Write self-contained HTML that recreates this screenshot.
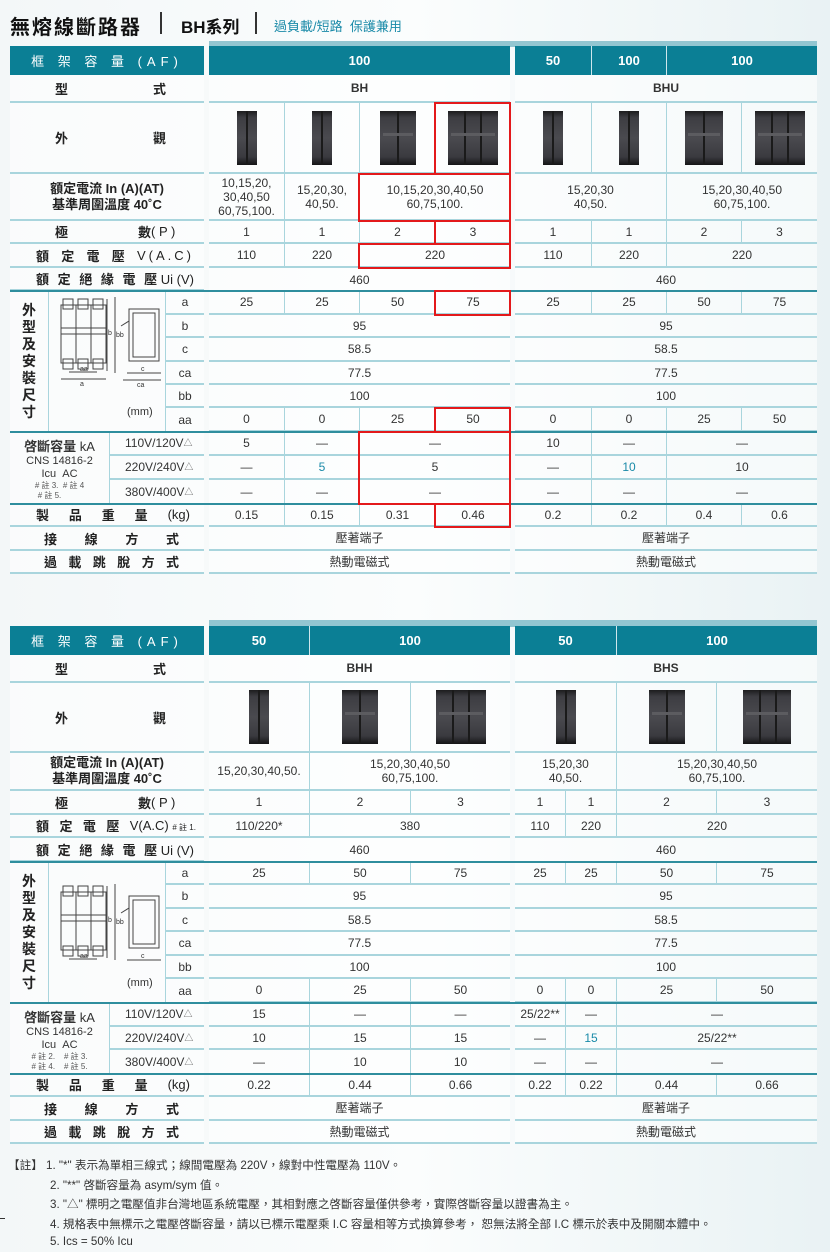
<!DOCTYPE html>
<html><head><meta charset="utf-8">
<style>
*{margin:0;padding:0;box-sizing:border-box}
body{width:830px;height:1252px;overflow:hidden;background:linear-gradient(90deg,#f3f7f8 0%,#fbfdfd 50%,#e9f2f4 100%);font-family:"Liberation Sans","Noto Sans CJK TC",sans-serif;color:#333;position:relative}
.c{position:absolute;display:flex;align-items:center;justify-content:center;text-align:center;font-size:12px;line-height:14px;border-bottom:2px solid #a9d5dd;background:rgba(255,255,255,.55)}
.v{border-left:1px solid #a9d5dd}
.h{position:absolute;background:#0b7f95;color:#fff;font-weight:bold;font-size:13px;display:flex;align-items:center;justify-content:center;height:29px}
.hv{border-left:1px solid #cfe7ec}
.lb{position:absolute;display:flex;align-items:center;justify-content:space-between;font-size:13px;font-weight:bold;color:#222;border-bottom:2px solid #a9d5dd;background:rgba(255,255,255,.55);white-space:nowrap}
.tk{position:absolute;left:10px;width:807px;height:2px;background:#2f8e9e}
.r{position:absolute;border:2px solid #e3191b}
.bk{display:block;height:54px;background:linear-gradient(180deg,#1c1c1e 0,#3d3d42 12%,#4a4a4f 50%,#3a3a3f 85%,#151517 100%);position:relative}
.bk i{position:absolute;top:0;bottom:0;width:2px;background:#1a1a1a}
.bk b{position:absolute;left:3px;right:3px;top:22px;height:3px;background:#5c5c60}
.tl{color:#1a8aa8}
.s{font-size:9px;vertical-align:top;color:#666}
.n{position:absolute;left:50px;font-size:11.6px;color:#333;white-space:nowrap}
</style></head><body>

<div style="position:absolute;left:10px;top:11px;font-size:20px;font-weight:bold;letter-spacing:2px;color:#111">無熔線斷路器</div>
<div style="position:absolute;left:160px;top:12px;width:2px;height:22px;background:#333"></div>
<div style="position:absolute;left:181px;top:13px;font-size:17px;font-weight:bold;color:#111">BH系列</div>
<div style="position:absolute;left:255px;top:12px;width:2px;height:22px;background:#333"></div>
<div style="position:absolute;left:274px;top:16px;font-size:13px;color:#1a8aa8">過負載/短路&nbsp;&nbsp;保護兼用</div>

<!-- ===== TABLE 1 ===== -->
<div style="position:absolute;left:209px;top:41px;width:608px;height:6px;background:#93c6d1"></div>
<div class="h" style="left:10px;top:46px;width:194px;font-weight:normal;letter-spacing:5px;font-size:13px">框&nbsp;架&nbsp;容&nbsp;量&nbsp;(AF)</div>
<div class="h" style="left:209px;top:46px;width:301px">100</div>
<div class="h" style="left:515px;top:46px;width:76px">50</div>
<div class="h hv" style="left:591px;top:46px;width:75px">100</div>
<div class="h hv" style="left:666px;top:46px;width:151px">100</div>

<div class="lb" style="left:10px;top:75px;width:194px;height:28px;padding:0 38px 0 45px"><span>型</span><span>式</span></div>
<div class="c" style="left:209px;top:75px;width:301px;height:28px;font-weight:bold">BH</div>
<div class="c" style="left:515px;top:75px;width:302px;height:28px;font-weight:bold">BHU</div>

<div class="lb" style="left:10px;top:103px;width:194px;height:71px;padding:0 38px 0 45px"><span>外</span><span>觀</span></div>
<div class="c" style="left:209px;top:103px;width:75px;height:71px"><span class="bk" style="width:20px"><i style="left:9px"></i></span></div>
<div class="c v" style="left:284px;top:103px;width:75px;height:71px"><span class="bk" style="width:20px"><i style="left:9px"></i></span></div>
<div class="c v" style="left:359px;top:103px;width:76px;height:71px"><span class="bk" style="width:36px"><i style="left:17px"></i><b></b></span></div>
<div class="c v" style="left:435px;top:103px;width:75px;height:71px"><span class="bk" style="width:50px"><i style="left:16px"></i><i style="left:32px"></i><b></b></span></div>
<div class="c" style="left:515px;top:103px;width:76px;height:71px"><span class="bk" style="width:20px"><i style="left:9px"></i></span></div>
<div class="c v" style="left:591px;top:103px;width:75px;height:71px"><span class="bk" style="width:20px"><i style="left:9px"></i></span></div>
<div class="c v" style="left:666px;top:103px;width:75px;height:71px"><span class="bk" style="width:38px"><i style="left:18px"></i><b></b></span></div>
<div class="c v" style="left:741px;top:103px;width:76px;height:71px"><span class="bk" style="width:50px"><i style="left:16px"></i><i style="left:32px"></i><b></b></span></div>

<div class="lb" style="left:10px;top:174px;width:194px;height:47px;justify-content:center;text-align:center;line-height:16px">額定電流 In (A)(AT)<br>基準周圍溫度 40˚C</div>
<div class="c" style="left:209px;top:174px;width:75px;height:47px">10,15,20,<br>30,40,50<br>60,75,100.</div>
<div class="c v" style="left:284px;top:174px;width:75px;height:47px">15,20,30,<br>40,50.</div>
<div class="c v" style="left:359px;top:174px;width:151px;height:47px">10,15,20,30,40,50<br>60,75,100.</div>
<div class="c" style="left:515px;top:174px;width:151px;height:47px">15,20,30<br>40,50.</div>
<div class="c v" style="left:666px;top:174px;width:151px;height:47px">15,20,30,40,50<br>60,75,100.</div>

<div class="lb" style="left:10px;top:221px;width:194px;height:23px;padding:0 38px 0 45px"><span>極</span><span style="margin-left:70px">數</span><span style="font-weight:normal">( P )</span></div>
<div class="c" style="left:209px;top:221px;width:75px;height:23px">1</div>
<div class="c v" style="left:284px;top:221px;width:75px;height:23px">1</div>
<div class="c v" style="left:359px;top:221px;width:76px;height:23px">2</div>
<div class="c v" style="left:435px;top:221px;width:75px;height:23px">3</div>
<div class="c" style="left:515px;top:221px;width:76px;height:23px">1</div>
<div class="c v" style="left:591px;top:221px;width:75px;height:23px">1</div>
<div class="c v" style="left:666px;top:221px;width:75px;height:23px">2</div>
<div class="c v" style="left:741px;top:221px;width:76px;height:23px">3</div>

<div class="lb" style="left:10px;top:244px;width:194px;height:24px;padding:0 10px 0 26px"><span>額</span><span>定</span><span>電</span><span>壓</span><span style="font-weight:normal;letter-spacing:3px">V(A.C)</span></div>
<div class="c" style="left:209px;top:244px;width:75px;height:24px">110</div>
<div class="c v" style="left:284px;top:244px;width:75px;height:24px">220</div>
<div class="c v" style="left:359px;top:244px;width:151px;height:24px">220</div>
<div class="c" style="left:515px;top:244px;width:76px;height:24px">110</div>
<div class="c v" style="left:591px;top:244px;width:75px;height:24px">220</div>
<div class="c v" style="left:666px;top:244px;width:151px;height:24px">220</div>

<div class="lb" style="left:10px;top:268px;width:194px;height:23px;padding:0 10px 0 26px"><span>額</span><span>定</span><span>絕</span><span>緣</span><span>電</span><span>壓 <span style="font-weight:normal">Ui (V)</span></span></div>
<div class="c" style="left:209px;top:268px;width:301px;height:23px;border-bottom:none">460</div>
<div class="c" style="left:515px;top:268px;width:302px;height:23px;border-bottom:none">460</div>

<div class="lb" style="left:10px;top:291px;width:38px;height:141px;justify-content:center;flex-direction:column;line-height:17px;font-size:14px;border-bottom:none">外<br>型<br>及<br>安<br>裝<br>尺<br>寸</div>
<div style="position:absolute;left:48px;top:291px;width:118px;height:141px;border-left:1px solid #a9d5dd;border-right:1px solid #a9d5dd;background:rgba(255,255,255,.55)">
<svg width="118" height="141" viewBox="0 0 118 141"><g fill="none" stroke="#444" stroke-width="1">
<rect x="12" y="14" width="45" height="58"/><line x1="27" y1="14" x2="27" y2="72"/><line x1="42" y1="14" x2="42" y2="72"/>
<rect x="14" y="8" width="10" height="10"/><rect x="29" y="8" width="10" height="10"/><rect x="44" y="8" width="10" height="10"/>
<rect x="14" y="68" width="10" height="10"/><rect x="29" y="68" width="10" height="10"/><rect x="44" y="68" width="10" height="10"/>
<rect x="12" y="37" width="45" height="6"/><line x1="58" y1="8" x2="58" y2="80"/><line x1="66" y1="6" x2="66" y2="82"/>
<line x1="12" y1="88" x2="57" y2="88"/><line x1="20" y1="81" x2="48" y2="81"/>
<rect x="80" y="18" width="30" height="52"/><rect x="84" y="22" width="22" height="44"/><line x1="72" y1="35" x2="80" y2="30"/>
<line x1="78" y1="82" x2="112" y2="82"/><line x1="74" y1="89" x2="112" y2="89"/></g>
<g font-size="7" fill="#333" font-family="Liberation Sans"><text x="31" y="80">aa</text><text x="31" y="95">a</text><text x="92" y="80">c</text><text x="88" y="96">ca</text><text x="59" y="44">b</text><text x="67" y="46">bb</text></g>
<text x="78" y="124" font-size="11" fill="#333" font-family="Liberation Sans">(mm)</text></svg></div>
<div class="c" style="left:166px;top:291px;width:38px;height:24px">a</div>
<div class="c" style="left:166px;top:315px;width:38px;height:23px">b</div>
<div class="c" style="left:166px;top:338px;width:38px;height:24px">c</div>
<div class="c" style="left:166px;top:362px;width:38px;height:23px">ca</div>
<div class="c" style="left:166px;top:385px;width:38px;height:23px">bb</div>
<div class="c" style="left:166px;top:408px;width:38px;height:24px;border-bottom:none">aa</div>

<div class="c" style="left:209px;top:291px;width:75px;height:24px">25</div>
<div class="c v" style="left:284px;top:291px;width:75px;height:24px">25</div>
<div class="c v" style="left:359px;top:291px;width:76px;height:24px">50</div>
<div class="c v" style="left:435px;top:291px;width:75px;height:24px">75</div>
<div class="c" style="left:515px;top:291px;width:76px;height:24px">25</div>
<div class="c v" style="left:591px;top:291px;width:75px;height:24px">25</div>
<div class="c v" style="left:666px;top:291px;width:75px;height:24px">50</div>
<div class="c v" style="left:741px;top:291px;width:76px;height:24px">75</div>
<div class="c" style="left:209px;top:315px;width:301px;height:23px">95</div>
<div class="c" style="left:515px;top:315px;width:302px;height:23px">95</div>
<div class="c" style="left:209px;top:338px;width:301px;height:24px">58.5</div>
<div class="c" style="left:515px;top:338px;width:302px;height:24px">58.5</div>
<div class="c" style="left:209px;top:362px;width:301px;height:23px">77.5</div>
<div class="c" style="left:515px;top:362px;width:302px;height:23px">77.5</div>
<div class="c" style="left:209px;top:385px;width:301px;height:23px">100</div>
<div class="c" style="left:515px;top:385px;width:302px;height:23px">100</div>
<div class="c" style="left:209px;top:408px;width:75px;height:24px">0</div>
<div class="c v" style="left:284px;top:408px;width:75px;height:24px">0</div>
<div class="c v" style="left:359px;top:408px;width:76px;height:24px">25</div>
<div class="c v" style="left:435px;top:408px;width:75px;height:24px">50</div>
<div class="c" style="left:515px;top:408px;width:76px;height:24px">0</div>
<div class="c v" style="left:591px;top:408px;width:75px;height:24px">0</div>
<div class="c v" style="left:666px;top:408px;width:75px;height:24px">25</div>
<div class="c v" style="left:741px;top:408px;width:76px;height:24px">50</div>

<div style="position:absolute;left:10px;top:432px;width:100px;height:72px;border-right:1px solid #a9d5dd;text-align:center;background:rgba(255,255,255,.55)">
<div style="font-size:13px;font-weight:bold;margin-top:4px">啓斷容量 <span style="font-weight:normal">kA</span></div>
<div style="font-size:11px;line-height:13px">CNS 14816-2<br>Icu&nbsp;&nbsp;AC</div>
<div style="font-size:8px;line-height:10px;color:#555"># 註 3.&nbsp;&nbsp;# 註 4<br># 註 5.&nbsp;&nbsp;&nbsp;&nbsp;&nbsp;&nbsp;&nbsp;&nbsp;&nbsp;</div></div>
<div class="c" style="left:110px;top:432px;width:94px;height:24px;justify-content:flex-start;padding-left:15px">110V/120V<span class="s">△</span></div>
<div class="c" style="left:110px;top:456px;width:94px;height:24px;justify-content:flex-start;padding-left:15px">220V/240V<span class="s">△</span></div>
<div class="c" style="left:110px;top:480px;width:94px;height:24px;justify-content:flex-start;padding-left:15px;border-bottom:none">380V/400V<span class="s">△</span></div>

<div class="c" style="left:209px;top:432px;width:75px;height:24px">5</div>
<div class="c v" style="left:284px;top:432px;width:75px;height:24px">—</div>
<div class="c v" style="left:359px;top:432px;width:151px;height:24px">—</div>
<div class="c" style="left:515px;top:432px;width:76px;height:24px">10</div>
<div class="c v" style="left:591px;top:432px;width:75px;height:24px">—</div>
<div class="c v" style="left:666px;top:432px;width:151px;height:24px">—</div>
<div class="c" style="left:209px;top:456px;width:75px;height:24px">—</div>
<div class="c v tl" style="left:284px;top:456px;width:75px;height:24px">5</div>
<div class="c v" style="left:359px;top:456px;width:151px;height:24px">5</div>
<div class="c" style="left:515px;top:456px;width:76px;height:24px">—</div>
<div class="c v tl" style="left:591px;top:456px;width:75px;height:24px">10</div>
<div class="c v" style="left:666px;top:456px;width:151px;height:24px">10</div>
<div class="c" style="left:209px;top:480px;width:75px;height:24px;border-bottom:none">—</div>
<div class="c v" style="left:284px;top:480px;width:75px;height:24px;border-bottom:none">—</div>
<div class="c v" style="left:359px;top:480px;width:151px;height:24px;border-bottom:none">—</div>
<div class="c" style="left:515px;top:480px;width:76px;height:24px;border-bottom:none">—</div>
<div class="c v" style="left:591px;top:480px;width:75px;height:24px;border-bottom:none">—</div>
<div class="c v" style="left:666px;top:480px;width:151px;height:24px;border-bottom:none">—</div>

<div class="lb" style="left:10px;top:504px;width:194px;height:23px;padding:0 14px 0 26px"><span>製</span><span>品</span><span>重</span><span>量</span><span style="font-weight:normal">(kg)</span></div>
<div class="c" style="left:209px;top:504px;width:75px;height:23px">0.15</div>
<div class="c v" style="left:284px;top:504px;width:75px;height:23px">0.15</div>
<div class="c v" style="left:359px;top:504px;width:76px;height:23px">0.31</div>
<div class="c v" style="left:435px;top:504px;width:75px;height:23px">0.46</div>
<div class="c" style="left:515px;top:504px;width:76px;height:23px">0.2</div>
<div class="c v" style="left:591px;top:504px;width:75px;height:23px">0.2</div>
<div class="c v" style="left:666px;top:504px;width:75px;height:23px">0.4</div>
<div class="c v" style="left:741px;top:504px;width:76px;height:23px">0.6</div>
<div class="lb" style="left:10px;top:527px;width:194px;height:24px;padding:0 25px 0 34px"><span>接</span><span>線</span><span>方</span><span>式</span></div>
<div class="c" style="left:209px;top:527px;width:301px;height:24px">壓著端子</div>
<div class="c" style="left:515px;top:527px;width:302px;height:24px">壓著端子</div>
<div class="lb" style="left:10px;top:551px;width:194px;height:23px;padding:0 25px 0 34px"><span>過</span><span>載</span><span>跳</span><span>脫</span><span>方</span><span>式</span></div>
<div class="c" style="left:209px;top:551px;width:301px;height:23px">熱動電磁式</div>
<div class="c" style="left:515px;top:551px;width:302px;height:23px">熱動電磁式</div>

<div class="tk" style="top:290px"></div>
<div class="tk" style="top:431px"></div>
<div class="tk" style="top:503px"></div>

<div class="r" style="left:434px;top:102px;width:77px;height:73px"></div>
<div class="r" style="left:358px;top:173px;width:153px;height:49px"></div>
<div class="r" style="left:434px;top:220px;width:77px;height:25px"></div>
<div class="r" style="left:358px;top:243px;width:153px;height:26px"></div>
<div class="r" style="left:434px;top:290px;width:77px;height:26px"></div>
<div class="r" style="left:434px;top:407px;width:77px;height:26px"></div>
<div class="r" style="left:358px;top:431px;width:153px;height:74px"></div>
<div class="r" style="left:434px;top:503px;width:77px;height:25px"></div>

<!-- ===== TABLE 2 ===== -->
<div style="position:absolute;left:209px;top:620px;width:608px;height:7px;background:#93c6d1"></div>
<div class="h" style="left:10px;top:626px;width:194px;font-weight:normal;letter-spacing:5px;font-size:13px">框&nbsp;架&nbsp;容&nbsp;量&nbsp;(AF)</div>
<div class="h" style="left:209px;top:626px;width:100px">50</div>
<div class="h hv" style="left:309px;top:626px;width:201px">100</div>
<div class="h" style="left:515px;top:626px;width:101px">50</div>
<div class="h hv" style="left:616px;top:626px;width:201px">100</div>

<div class="lb" style="left:10px;top:655px;width:194px;height:28px;padding:0 38px 0 45px"><span>型</span><span>式</span></div>
<div class="c" style="left:209px;top:655px;width:301px;height:28px;font-weight:bold">BHH</div>
<div class="c" style="left:515px;top:655px;width:302px;height:28px;font-weight:bold">BHS</div>

<div class="lb" style="left:10px;top:683px;width:194px;height:70px;padding:0 38px 0 45px"><span>外</span><span>觀</span></div>
<div class="c" style="left:209px;top:683px;width:100px;height:70px"><span class="bk" style="width:20px"><i style="left:9px"></i></span></div>
<div class="c v" style="left:309px;top:683px;width:101px;height:70px"><span class="bk" style="width:36px"><i style="left:17px"></i><b></b></span></div>
<div class="c v" style="left:410px;top:683px;width:100px;height:70px"><span class="bk" style="width:50px"><i style="left:16px"></i><i style="left:32px"></i><b></b></span></div>
<div class="c" style="left:515px;top:683px;width:101px;height:70px"><span class="bk" style="width:20px"><i style="left:9px"></i></span></div>
<div class="c v" style="left:616px;top:683px;width:100px;height:70px"><span class="bk" style="width:36px"><i style="left:17px"></i><b></b></span></div>
<div class="c v" style="left:716px;top:683px;width:101px;height:70px"><span class="bk" style="width:48px"><i style="left:16px"></i><i style="left:32px"></i><b></b></span></div>

<div class="lb" style="left:10px;top:753px;width:194px;height:38px;justify-content:center;text-align:center;line-height:16px">額定電流 In (A)(AT)<br>基準周圍溫度 40˚C</div>
<div class="c" style="left:209px;top:753px;width:100px;height:38px">15,20,30,40,50.</div>
<div class="c v" style="left:309px;top:753px;width:201px;height:38px">15,20,30,40,50<br>60,75,100.</div>
<div class="c" style="left:515px;top:753px;width:101px;height:38px">15,20,30<br>40,50.</div>
<div class="c v" style="left:616px;top:753px;width:201px;height:38px">15,20,30,40,50<br>60,75,100.</div>

<div class="lb" style="left:10px;top:791px;width:194px;height:24px;padding:0 38px 0 45px"><span>極</span><span style="margin-left:70px">數</span><span style="font-weight:normal">( P )</span></div>
<div class="c" style="left:209px;top:791px;width:100px;height:24px">1</div>
<div class="c v" style="left:309px;top:791px;width:101px;height:24px">2</div>
<div class="c v" style="left:410px;top:791px;width:100px;height:24px">3</div>
<div class="c" style="left:515px;top:791px;width:50px;height:24px">1</div>
<div class="c v" style="left:565px;top:791px;width:51px;height:24px">1</div>
<div class="c v" style="left:616px;top:791px;width:100px;height:24px">2</div>
<div class="c v" style="left:716px;top:791px;width:101px;height:24px">3</div>

<div class="lb" style="left:10px;top:815px;width:194px;height:23px;padding:0 8px 0 26px"><span>額</span><span>定</span><span>電</span><span>壓</span><span style="font-weight:normal">V(A.C) <span style="font-size:8px">#&nbsp;註 1.</span></span></div>
<div class="c" style="left:209px;top:815px;width:100px;height:23px">110/220*</div>
<div class="c v" style="left:309px;top:815px;width:201px;height:23px">380</div>
<div class="c" style="left:515px;top:815px;width:50px;height:23px">110</div>
<div class="c v" style="left:565px;top:815px;width:51px;height:23px">220</div>
<div class="c v" style="left:616px;top:815px;width:201px;height:23px">220</div>

<div class="lb" style="left:10px;top:838px;width:194px;height:24px;padding:0 10px 0 26px"><span>額</span><span>定</span><span>絕</span><span>緣</span><span>電</span><span>壓 <span style="font-weight:normal">Ui (V)</span></span></div>
<div class="c" style="left:209px;top:838px;width:301px;height:24px;border-bottom:none">460</div>
<div class="c" style="left:515px;top:838px;width:302px;height:24px;border-bottom:none">460</div>

<div class="lb" style="left:10px;top:862px;width:38px;height:141px;justify-content:center;flex-direction:column;line-height:17px;font-size:14px;border-bottom:none">外<br>型<br>及<br>安<br>裝<br>尺<br>寸</div>
<div style="position:absolute;left:48px;top:862px;width:118px;height:141px;border-left:1px solid #a9d5dd;border-right:1px solid #a9d5dd;background:rgba(255,255,255,.55)">
<svg width="118" height="141" viewBox="0 0 118 141"><g fill="none" stroke="#444" stroke-width="1">
<rect x="12" y="30" width="45" height="58"/><line x1="27" y1="30" x2="27" y2="88"/><line x1="42" y1="30" x2="42" y2="88"/>
<rect x="14" y="24" width="10" height="10"/><rect x="29" y="24" width="10" height="10"/><rect x="44" y="24" width="10" height="10"/>
<rect x="14" y="84" width="10" height="10"/><rect x="29" y="84" width="10" height="10"/><rect x="44" y="84" width="10" height="10"/>
<rect x="12" y="53" width="45" height="6"/><line x1="58" y1="24" x2="58" y2="96"/><line x1="66" y1="22" x2="66" y2="98"/>
<rect x="80" y="34" width="30" height="52"/><rect x="84" y="38" width="22" height="44"/><line x1="72" y1="51" x2="80" y2="46"/>
<line x1="78" y1="98" x2="112" y2="98"/><line x1="20" y1="97" x2="48" y2="97"/></g>
<g font-size="7" fill="#333" font-family="Liberation Sans"><text x="31" y="96">aa</text><text x="92" y="96">c</text><text x="59" y="60">b</text><text x="67" y="62">bb</text></g>
<text x="78" y="124" font-size="11" fill="#333" font-family="Liberation Sans">(mm)</text></svg></div>
<div class="c" style="left:166px;top:862px;width:38px;height:23px">a</div>
<div class="c" style="left:166px;top:885px;width:38px;height:24px">b</div>
<div class="c" style="left:166px;top:909px;width:38px;height:23px">c</div>
<div class="c" style="left:166px;top:932px;width:38px;height:24px">ca</div>
<div class="c" style="left:166px;top:956px;width:38px;height:23px">bb</div>
<div class="c" style="left:166px;top:979px;width:38px;height:24px;border-bottom:none">aa</div>

<div class="c" style="left:209px;top:862px;width:100px;height:23px">25</div>
<div class="c v" style="left:309px;top:862px;width:101px;height:23px">50</div>
<div class="c v" style="left:410px;top:862px;width:100px;height:23px">75</div>
<div class="c" style="left:515px;top:862px;width:50px;height:23px">25</div>
<div class="c v" style="left:565px;top:862px;width:51px;height:23px">25</div>
<div class="c v" style="left:616px;top:862px;width:100px;height:23px">50</div>
<div class="c v" style="left:716px;top:862px;width:101px;height:23px">75</div>
<div class="c" style="left:209px;top:885px;width:301px;height:24px">95</div>
<div class="c" style="left:515px;top:885px;width:302px;height:24px">95</div>
<div class="c" style="left:209px;top:909px;width:301px;height:23px">58.5</div>
<div class="c" style="left:515px;top:909px;width:302px;height:23px">58.5</div>
<div class="c" style="left:209px;top:932px;width:301px;height:24px">77.5</div>
<div class="c" style="left:515px;top:932px;width:302px;height:24px">77.5</div>
<div class="c" style="left:209px;top:956px;width:301px;height:23px">100</div>
<div class="c" style="left:515px;top:956px;width:302px;height:23px">100</div>
<div class="c" style="left:209px;top:979px;width:100px;height:24px">0</div>
<div class="c v" style="left:309px;top:979px;width:101px;height:24px">25</div>
<div class="c v" style="left:410px;top:979px;width:100px;height:24px">50</div>
<div class="c" style="left:515px;top:979px;width:50px;height:24px">0</div>
<div class="c v" style="left:565px;top:979px;width:51px;height:24px">0</div>
<div class="c v" style="left:616px;top:979px;width:100px;height:24px">25</div>
<div class="c v" style="left:716px;top:979px;width:101px;height:24px">50</div>

<div style="position:absolute;left:10px;top:1003px;width:100px;height:71px;border-right:1px solid #a9d5dd;text-align:center;background:rgba(255,255,255,.55)">
<div style="font-size:13px;font-weight:bold;margin-top:4px">啓斷容量 <span style="font-weight:normal">kA</span></div>
<div style="font-size:11px;line-height:13px">CNS 14816-2<br>Icu&nbsp;&nbsp;AC</div>
<div style="font-size:8px;line-height:10px;color:#555"># 註 2.&nbsp;&nbsp;&nbsp;&nbsp;# 註 3.<br># 註 4.&nbsp;&nbsp;&nbsp;&nbsp;# 註 5.</div></div>
<div class="c" style="left:110px;top:1003px;width:94px;height:24px;justify-content:flex-start;padding-left:15px">110V/120V<span class="s">△</span></div>
<div class="c" style="left:110px;top:1027px;width:94px;height:23px;justify-content:flex-start;padding-left:15px">220V/240V<span class="s">△</span></div>
<div class="c" style="left:110px;top:1050px;width:94px;height:24px;justify-content:flex-start;padding-left:15px;border-bottom:none">380V/400V<span class="s">△</span></div>

<div class="c" style="left:209px;top:1003px;width:100px;height:24px">15</div>
<div class="c v" style="left:309px;top:1003px;width:101px;height:24px">—</div>
<div class="c v" style="left:410px;top:1003px;width:100px;height:24px">—</div>
<div class="c" style="left:515px;top:1003px;width:50px;height:24px">25/22**</div>
<div class="c v" style="left:565px;top:1003px;width:51px;height:24px">—</div>
<div class="c v" style="left:616px;top:1003px;width:201px;height:24px">—</div>
<div class="c" style="left:209px;top:1027px;width:100px;height:23px">10</div>
<div class="c v" style="left:309px;top:1027px;width:101px;height:23px">15</div>
<div class="c v" style="left:410px;top:1027px;width:100px;height:23px">15</div>
<div class="c" style="left:515px;top:1027px;width:50px;height:23px">—</div>
<div class="c v tl" style="left:565px;top:1027px;width:51px;height:23px">15</div>
<div class="c v" style="left:616px;top:1027px;width:201px;height:23px">25/22**</div>
<div class="c" style="left:209px;top:1050px;width:100px;height:24px;border-bottom:none">—</div>
<div class="c v" style="left:309px;top:1050px;width:101px;height:24px;border-bottom:none">10</div>
<div class="c v" style="left:410px;top:1050px;width:100px;height:24px;border-bottom:none">10</div>
<div class="c" style="left:515px;top:1050px;width:50px;height:24px;border-bottom:none">—</div>
<div class="c v" style="left:565px;top:1050px;width:51px;height:24px;border-bottom:none">—</div>
<div class="c v" style="left:616px;top:1050px;width:201px;height:24px;border-bottom:none">—</div>

<div class="lb" style="left:10px;top:1074px;width:194px;height:23px;padding:0 14px 0 26px"><span>製</span><span>品</span><span>重</span><span>量</span><span style="font-weight:normal">(kg)</span></div>
<div class="c" style="left:209px;top:1074px;width:100px;height:23px">0.22</div>
<div class="c v" style="left:309px;top:1074px;width:101px;height:23px">0.44</div>
<div class="c v" style="left:410px;top:1074px;width:100px;height:23px">0.66</div>
<div class="c" style="left:515px;top:1074px;width:50px;height:23px">0.22</div>
<div class="c v" style="left:565px;top:1074px;width:51px;height:23px">0.22</div>
<div class="c v" style="left:616px;top:1074px;width:100px;height:23px">0.44</div>
<div class="c v" style="left:716px;top:1074px;width:101px;height:23px">0.66</div>
<div class="lb" style="left:10px;top:1097px;width:194px;height:24px;padding:0 25px 0 34px"><span>接</span><span>線</span><span>方</span><span>式</span></div>
<div class="c" style="left:209px;top:1097px;width:301px;height:24px">壓著端子</div>
<div class="c" style="left:515px;top:1097px;width:302px;height:24px">壓著端子</div>
<div class="lb" style="left:10px;top:1121px;width:194px;height:23px;padding:0 25px 0 34px"><span>過</span><span>載</span><span>跳</span><span>脫</span><span>方</span><span>式</span></div>
<div class="c" style="left:209px;top:1121px;width:301px;height:23px">熱動電磁式</div>
<div class="c" style="left:515px;top:1121px;width:302px;height:23px">熱動電磁式</div>

<div class="tk" style="top:861px"></div>
<div class="tk" style="top:1002px"></div>
<div class="tk" style="top:1073px"></div>

<div class="n" style="left:8px;top:1157px">【註】 1. "*" 表示為單相三線式；線間電壓為 220V，線對中性電壓為 110V。</div>
<div class="n" style="top:1177px">2. "**" 啓斷容量為 asym/sym 值。</div>
<div class="n" style="top:1196px">3. "△" 標明之電壓值非台灣地區系統電壓，其相對應之啓斷容量僅供參考，實際啓斷容量以證書為主。</div>
<div class="n" style="top:1216px">4. 規格表中無標示之電壓啓斷容量，請以已標示電壓乘 I.C 容量相等方式換算參考， 恕無法將全部 I.C 標示於表中及開關本體中。</div>
<div class="n" style="top:1235px">5. Ics = 50% Icu</div>
<div style="position:absolute;left:0;top:1218px;width:5px;height:1px;background:#333"></div>
</body></html>
